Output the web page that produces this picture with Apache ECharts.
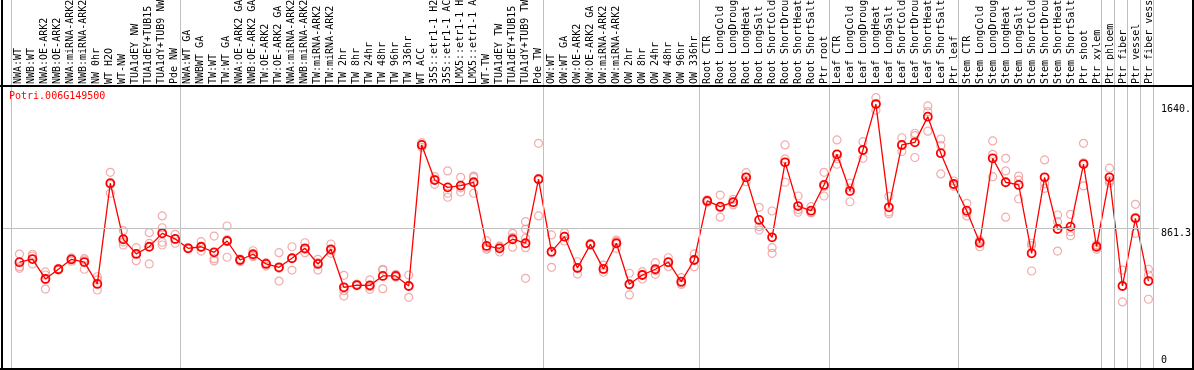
<!DOCTYPE html>
<html><head><meta charset="utf-8">
<script src="https://cdn.jsdelivr.net/npm/echarts@6/dist/echarts.min.js"></script>
<style>html,body{margin:0;padding:0;background:#fff}#c{width:1194px;height:370px}</style>
</head><body><div id="c"></div>
<script>
const geneId = 'Potri.006G149500';
const categories = ['NWA:WT','NWB:WT','NWA:OE-ARK2','NWB:OE-ARK2','NWA:miRNA-ARK2','NWB:miRNA-ARK2','NW 0hr','WT H2O','WT-NW','TUA1dEY NW','TUA1dEY+TUB15','TUA1dY+TUB9 NW','Pde NW',
'NWA:WT GA','NWBWT GA','TW:WT','TW:WT GA','NWA:OE-ARK2 GA','NWB:OE-ARK2 GA','TW:OE-ARK2','TW:OE-ARK2 GA','NWA:miRNA-ARK2','NWB:miRNA-ARK2','TW:miRNA-ARK2','TW:miRNA-ARK2','TW 2hr','TW 8hr','TW 24hr','TW 48hr','TW 96hr','TW 336hr','WT ACC','35S::etr1-1 H2','35S::etr1-1 AC','LMX5::etr1-1 H','LMX5::etr1-1 A','WT-TW','TUA1dEY TW','TUA1dEY+TUB15','TUA1dY+TUB9 TW','Pde TW',
'OW:WT','OW:WT GA','OW:OE-ARK2','OW:OE-ARK2 GA','OW:miRNA-ARK2','OW:miRNA-ARK2','OW 2hr','OW 8hr','OW 24hr','OW 48hr','OW 96hr','OW 336hr',
'Root CTR','Root LongCold','Root LongDroug','Root LongHeat','Root LongSalt','Root ShortCold','Root ShortDrou','Root ShortHeat','Root ShortSalt','Ptr root',
'Leaf CTR','Leaf LongCold','Leaf LongDroug','Leaf LongHeat','Leaf LongSalt','Leaf ShortCold','Leaf ShortDrou','Leaf ShortHeat','Leaf ShortSalt','Ptr leaf',
'Stem CTR','Stem LongCold','Stem LongDroug','Stem LongHeat','Stem LongSalt','Stem ShortCold','Stem ShortDrou','Stem ShortHeat','Stem ShortSalt','Ptr shoot',
'Ptr xylem','Ptr phloem','Ptr fiber','Ptr vessel','Ptr fiber vess'];

const meanValues = [649,669,544,605,667,650,513,1144,793,701,746,830,795,
736,746,711,782,663,699,638,617,674,736,638,730,492,506,504,563,563,500,1384,1164,1118,1129,1150,751,736,793,768,1169,
715,809,613,761,607,768,511,569,605,649,527,663,
1033,997,1025,1181,914,805,1275,1001,972,1133,
1325,1095,1352,1640,993,1384,1400,1561,1332,1139,
972,771,1300,1150,1133,705,1181,857,872,1264,
746,1181,500,924,531];

const replicateValues = [
[700,621,611],[699,688,638],[588,569,481],[609,605,600],[676,665,655],[671,663,605],[558,538,475],[1212,1137,1081],[847,775,757],[740,703,659],[834,767,638],[939,865,774,757],[824,792,768],
[740,736,733],[778,742,719],[813,671,657],[876,790,680],[669,667,652],[721,692,684],[646,642,625],[709,611,531],[746,674,600],[771,729,709],[667,646,600],[763,722,705],[567,471,437],[512,506,501],[538,496,479],[605,600,483],[573,561,555],[569,502,429],[1398,1384,1369],[1185,1170,1137],[1221,1081,1056],[1181,1115,1089],[1189,1180,1081],[784,738,730],[751,745,713],[830,805,743],[903,855,800,740,548],[1394,1173,939],
[820,708,617],[834,811,782],[652,611,575],[767,761,756],[631,603,586],[788,778,736],[580,509,444],[590,573,544],[646,595,573],[677,648,621],[552,519,510],[701,667,621],
[1040,1033,1025],[1070,990,931],[1043,1023,1008],[1210,1180,1154],[993,872,851],[970,740,705],[1384,1296,1150],[1064,978,962],[997,960,958],[1212,1122,1064],
[1415,1298,1263],[1144,1114,1028],[1404,1352,1300],[1680,1640,1601],[1062,965,952],[1429,1380,1342],[1457,1442,1305],[1628,1592,1470],[1421,1379,1202],[1158,1134,1125],
[1018,960,939],[787,781,746],[1409,1325,1185],[1300,1221,931],[1189,1164,1045],[768,753,594],[1290,1142,1112],[945,903,719],[949,840,815],[1394,1272,1127],
[759,752,730],[1238,1160,1147],[600,500,400],[1012,930,830],[605,569,417]];

const groupStarts = [0,13,41,53,63,73,84,85,86,87,88];
const yTickValues = [0, 861.3, 1640];
const yTickLabels = ['0', '861.3', '1640.'];
const refLineValue = 861.3;

// layout
const W = 1194;
const catW = 13;
const plotLeft = 2, plotRight = 1161;
const firstPointX = 19.5;
const xMin = (plotLeft - firstPointX) / catW;
const xMax = (plotRight - firstPointX) / catW;
const sepOffset = -8 / catW;
const yMin = -13.8, yMax = 2292;
const MONO = 'DejaVu Sans Mono';

const meanData = meanValues.map((v, i) => [i, v]);
const repData = [];
replicateValues.forEach((arr, i) => arr.forEach(v => repData.push([i, v])));

function tickLabel(v) {
  for (let k = 0; k < yTickValues.length; k++) if (Math.abs(yTickValues[k] - v) < 1e-6) return yTickLabels[k];
  return '';
}

const chart = echarts.init(document.getElementById('c'), null, {renderer: 'canvas'});
chart.setOption({
  animation: false,
  title: {text: geneId, left: 9, top: 91, padding: 0,
    textStyle: {color: '#ff0000', fontSize: 10, fontFamily: MONO, fontWeight: 'normal'}},
  grid: [
    {left: plotLeft, right: W - plotRight, top: 0, bottom: 2},
    {left: 12, right: W - 1156, top: 85, height: 1}
  ],
  xAxis: [
    {type: 'value', gridIndex: 0, min: xMin, max: xMax, show: false},
    {type: 'category', gridIndex: 1, position: 'top', data: categories, boundaryGap: true,
      axisLine: {show: false}, axisTick: {show: false}, splitLine: {show: false},
      axisLabel: {rotate: 90, interval: 0, margin: 2, fontSize: 10, fontFamily: MONO, color: '#000'}}
  ],
  yAxis: [
    {type: 'value', gridIndex: 0, min: yMin, max: yMax, position: 'right',
      axisLine: {show: false}, axisTick: {show: false}, splitLine: {show: false},
      axisLabel: {customValues: yTickValues.filter(v => v !== 0), formatter: tickLabel, margin: 2,
        verticalAlign: 'top', align: 'left', fontSize: 10, fontFamily: MONO, color: '#000'}},
    {type: 'value', gridIndex: 0, min: yMin, max: yMax, position: 'right',
      axisLine: {show: false}, axisTick: {show: false}, splitLine: {show: false},
      axisLabel: {customValues: yTickValues.filter(v => v === 0), formatter: tickLabel, margin: 2,
        verticalAlign: 'bottom', align: 'left', fontSize: 10, fontFamily: MONO, color: '#000'}},
    {type: 'value', gridIndex: 1, show: false}
  ],
  series: [
    {type: 'scatter', xAxisIndex: 0, yAxisIndex: 0, data: repData, symbol: 'circle', symbolSize: 8,
      itemStyle: {color: 'rgba(0,0,0,0)', borderColor: '#f09696', borderWidth: 1.2}, z: 2, silent: true},
    {type: 'line', xAxisIndex: 0, yAxisIndex: 0, data: meanData, symbol: 'circle', symbolSize: 8,
      lineStyle: {color: '#ff0000', width: 1.3},
      itemStyle: {color: 'rgba(0,0,0,0)', borderColor: '#ff0000', borderWidth: 1.8}, z: 3, silent: true,
      markLine: {silent: true, symbol: 'none', label: {show: false},
        lineStyle: {color: '#c0c0c0', width: 1, type: 'solid'},
        data: groupStarts.map(k => ({xAxis: k + sepOffset})).concat([{yAxis: refLineValue}])}}
  ],
  graphic: [
    {type: 'line', shape: {x1: 2, y1: 0, x2: 2, y2: 370}, style: {stroke: '#000', lineWidth: 2}, z: 100},
    {type: 'line', shape: {x1: 1193, y1: 0, x2: 1193, y2: 370}, style: {stroke: '#000', lineWidth: 2}, z: 100},
    {type: 'line', shape: {x1: 0, y1: 86, x2: 1194, y2: 86}, style: {stroke: '#000', lineWidth: 2}, z: 100},
    {type: 'line', shape: {x1: 0, y1: 369, x2: 1194, y2: 369}, style: {stroke: '#000', lineWidth: 2}, z: 100}
  ]
});
</script></body></html>
